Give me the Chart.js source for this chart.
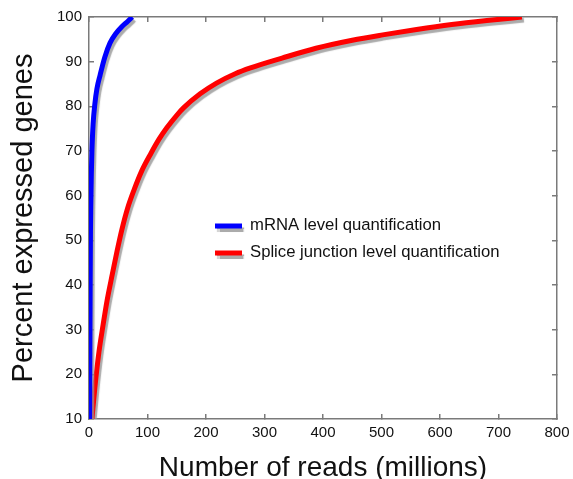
<!DOCTYPE html>
<html>
<head>
<meta charset="utf-8">
<script src="https://cdn.jsdelivr.net/npm/chart.js@4.4.1/dist/chart.umd.min.js"></script>
<style>
  html, body { margin: 0; padding: 0; background: #fff; }
  #wrap { width: 573px; height: 479px; }
</style>
</head>
<body>
<div id="wrap"><canvas id="curve" width="573" height="479"></canvas></div>
<script>
const mrnaReads = [1, 1.5, 2, 2.5, 3.2, 4, 5, 7, 10, 13.5, 19, 27, 36, 46, 56, 66, 74];
const mrnaPercent = [10, 25, 40, 52, 59, 65, 70, 76, 80.5, 83.9, 87, 91, 94.2, 96.3, 97.8, 99, 100];

const spliceReads = [5, 10, 17, 24, 31, 40, 48, 56, 66, 77, 90, 106, 120, 133, 150, 162, 190, 218, 250, 276, 330, 388, 450, 502, 560, 620, 680, 740];
const splicePercent = [10, 17, 25, 31, 36.6, 42.5, 47.6, 52.3, 57.2, 61.3, 65.5, 69.5, 72.7, 75.2, 78, 79.7, 82.8, 85.2, 87.3, 88.6, 90.8, 93, 94.8, 96, 97.2, 98.3, 99.2, 100];

const SERIES_NAMES = ["mRNA level quantification", "Splice junction level quantification"];
const X_TICKS = [0, 100, 200, 300, 400, 500, 600, 700, 800];
const Y_TICKS = [10, 20, 30, 40, 50, 60, 70, 80, 90, 100];

const toPoints = (xs, ys) => xs.map((x, i) => ({ x, y: ys[i] }));

const FONT = "'Liberation Sans', Arial, sans-serif";
const AXIS_GRAY = "#7a7a7a";

// grey drop shadow under each curve
const shadowPlugin = {
  id: "shadow",
  beforeDatasetDraw(chart) {
    const ctx = chart.ctx;
    ctx.save();
    ctx.shadowColor = "rgba(150,150,150,0.8)";
    ctx.shadowOffsetX = 2;
    ctx.shadowOffsetY = 3;
    ctx.shadowBlur = 1;
  },
  afterDatasetDraw(chart) {
    chart.ctx.restore();
  }
};

// legend sits inside the plot, like the original figure
const innerLegend = {
  id: "innerLegend",
  afterDatasetsDraw(chart) {
    const ctx = chart.ctx;
    const x0 = 215, len = 27, rows = [226, 253];
    chart.data.datasets.forEach((ds, i) => {
      const y = rows[i];
      ctx.save();
      ctx.shadowColor = "rgba(150,150,150,0.8)";
      ctx.shadowOffsetX = 2;
      ctx.shadowOffsetY = 3;
      ctx.shadowBlur = 1;
      ctx.strokeStyle = ds.borderColor;
      ctx.lineWidth = 5;
      ctx.beginPath();
      ctx.moveTo(x0, y);
      ctx.lineTo(x0 + len, y);
      ctx.stroke();
      ctx.restore();
      ctx.save();
      ctx.fillStyle = "#111";
      ctx.font = "16.7px " + FONT;
      ctx.textBaseline = "middle";
      ctx.fillText(ds.label, x0 + len + 8, y - 1);
      ctx.restore();
    });
  }
};

// top / right frame lines with inward ticks
const boxAxis = (position) => ({
  type: "linear",
  position,
  min: position === "top" ? 0 : 10,
  max: position === "top" ? 800 : 100,
  afterBuildTicks: (s) => { s.ticks = (position === "top" ? X_TICKS : Y_TICKS).map(v => ({ value: v })); },
  afterFit: (s) => {
    if (position === "top") s.height = 17; else s.width = 16;
    s.paddingLeft = s.paddingRight = s.paddingTop = s.paddingBottom = 0;
  },
  ticks: { display: false },
  grid: { drawOnChartArea: false, tickLength: -5, color: AXIS_GRAY, lineWidth: 1.5 },
  border: { color: AXIS_GRAY, width: 1.5 }
});

new Chart(document.getElementById("curve"), {
  type: "line",
  data: {
    datasets: [
      {
        label: SERIES_NAMES[0],
        data: toPoints(mrnaReads, mrnaPercent),
        borderColor: "#0000ff",
        borderWidth: 5,
        pointRadius: 0,
        cubicInterpolationMode: "monotone",
        fill: false
      },
      {
        label: SERIES_NAMES[1],
        data: toPoints(spliceReads, splicePercent),
        borderColor: "#ff0000",
        borderWidth: 5,
        pointRadius: 0,
        cubicInterpolationMode: "monotone",
        fill: false
      }
    ]
  },
  options: {
    responsive: false,
    animation: false,
    layout: { padding: 0 },
    plugins: {
      legend: { display: false },
      tooltip: { enabled: false }
    },
    scales: {
      x: {
        type: "linear",
        position: "bottom",
        min: 0,
        max: 800,
        afterBuildTicks: (s) => { s.ticks = X_TICKS.map(v => ({ value: v })); },
        afterFit: (s) => { s.height = 60; s.paddingLeft = 0; s.paddingRight = 0; },
        ticks: { color: "#111", font: { family: FONT, size: 15 }, padding: 10 },
        grid: { drawOnChartArea: false, tickLength: -5, color: AXIS_GRAY, lineWidth: 1.5 },
        border: { color: AXIS_GRAY, width: 1.5 },
        title: {
          display: true,
          text: "Number of reads (millions)",
          color: "#111",
          font: { family: FONT, size: 28, lineHeight: 0.8 },
          padding: { top: 0, bottom: 0 }
        }
      },
      y: {
        type: "linear",
        position: "left",
        min: 10,
        max: 100,
        afterBuildTicks: (s) => { s.ticks = Y_TICKS.map(v => ({ value: v })); },
        afterFit: (s) => { s.width = 89; s.paddingTop = 0; s.paddingBottom = 0; },
        ticks: { color: "#111", font: { family: FONT, size: 15 }, padding: 12 },
        grid: { drawOnChartArea: false, tickLength: -5, color: AXIS_GRAY, lineWidth: 1.5 },
        border: { color: AXIS_GRAY, width: 1.5 },
        title: {
          display: true,
          text: "Percent expressed genes",
          color: "#111",
          font: { family: FONT, size: 29, lineHeight: 1 },
          padding: { top: 9, bottom: 0 }
        }
      },
      x2: boxAxis("top"),
      y2: boxAxis("right")
    }
  },
  plugins: [shadowPlugin, innerLegend]
});
</script>
</body>
</html>
